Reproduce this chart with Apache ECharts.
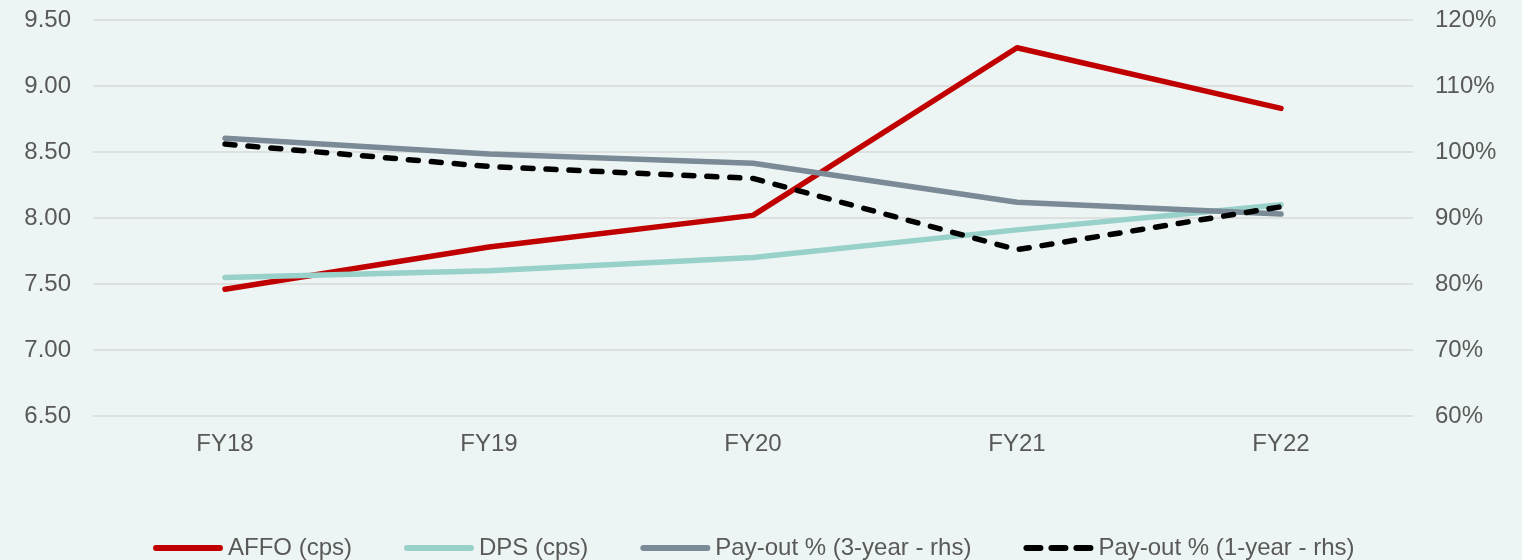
<!DOCTYPE html>
<html>
<head>
<meta charset="utf-8">
<script src="https://cdn.jsdelivr.net/npm/echarts@6/dist/echarts.min.js"></script>
<style>
  html, body { margin: 0; padding: 0; background: #EDF5F4; }
  #chart { width: 1522px; height: 560px; }
</style>
</head>
<body>
<div id="chart"></div>
<script>
// categories + values
const years = ['FY18', 'FY19', 'FY20', 'FY21', 'FY22'];
const affo = [7.46, 7.78, 8.02, 9.29, 8.83];
const dps = [7.55, 7.60, 7.70, 7.91, 8.10];
const payout3 = [102.1, 99.7, 98.3, 92.4, 90.6];
const payout1 = [101.2, 97.8, 96.0, 85.2, 91.7];

const font = 'Liberation Sans, Arial, sans-serif';
const textGrey = '#595959';

// legend icons: plain bar, or three dashes for the dashed series
const solidIcon = 'path://M3,0H67A3,3 0 0 1 67,6H3A3,3 0 0 1 3,0Z';
const dashIcon = 'path://M3,0H17A3,3 0 0 1 17,6H3A3,3 0 0 1 3,0Z' +
    'M28,0H42A3,3 0 0 1 42,6H28A3,3 0 0 1 28,0Z' +
    'M53,0H67A3,3 0 0 1 67,6H53A3,3 0 0 1 53,0Z';

const chart = echarts.init(document.getElementById('chart'));

const lineSeries = (name, data, color, axis, dashed) => ({
    name: name,
    type: 'line',
    yAxisIndex: axis,
    data: data,
    symbol: 'none',
    lineStyle: {
        color: color,
        width: 5.5,
        type: dashed ? [10, 13] : 'solid',
        cap: 'round',
        join: 'round'
    },
    itemStyle: { color: color },
    z: dashed ? 5 : 3
});

chart.setOption({
    backgroundColor: '#EDF5F4',
    animation: false,
    grid: { left: 93, right: 109, top: 20, bottom: 144 },
    legend: {
        top: 531,
        left: 148,
        itemWidth: 70,
        itemHeight: 6,
        itemGap: 52,
        textStyle: { fontSize: 24, color: textGrey, fontFamily: font },
        data: [
            { name: 'AFFO (cps)', icon: solidIcon },
            { name: 'DPS (cps)', icon: solidIcon },
            { name: 'Pay-out % (3-year - rhs)', icon: solidIcon },
            { name: 'Pay-out % (1-year - rhs)', icon: dashIcon }
        ]
    },
    xAxis: {
        type: 'category',
        data: years,
        axisLine: { show: false },
        axisTick: { show: false },
        axisLabel: { fontSize: 24, color: textGrey, fontFamily: font, margin: 16 }
    },
    yAxis: [
        {
            type: 'value',
            min: 6.5,
            max: 9.5,
            interval: 0.5,
            axisLine: { show: false },
            axisTick: { show: false },
            splitLine: { lineStyle: { color: '#D9D9D9', width: 1.5 } },
            axisLabel: {
                fontSize: 24, color: textGrey, fontFamily: font, margin: 22,
                formatter: v => v.toFixed(2)
            }
        },
        {
            type: 'value',
            min: 60,
            max: 120,
            interval: 10,
            axisLine: { show: false },
            axisTick: { show: false },
            splitLine: { show: false },
            axisLabel: {
                fontSize: 24, color: textGrey, fontFamily: font, margin: 22,
                formatter: '{value}%'
            }
        }
    ],
    series: [
        lineSeries('AFFO (cps)', affo, '#C00000', 0, false),
        lineSeries('DPS (cps)', dps, '#98D0CA', 0, false),
        lineSeries('Pay-out % (3-year - rhs)', payout3, '#7A8A97', 1, false),
        lineSeries('Pay-out % (1-year - rhs)', payout1, '#000000', 1, true)
    ]
});
</script>
</body>
</html>
